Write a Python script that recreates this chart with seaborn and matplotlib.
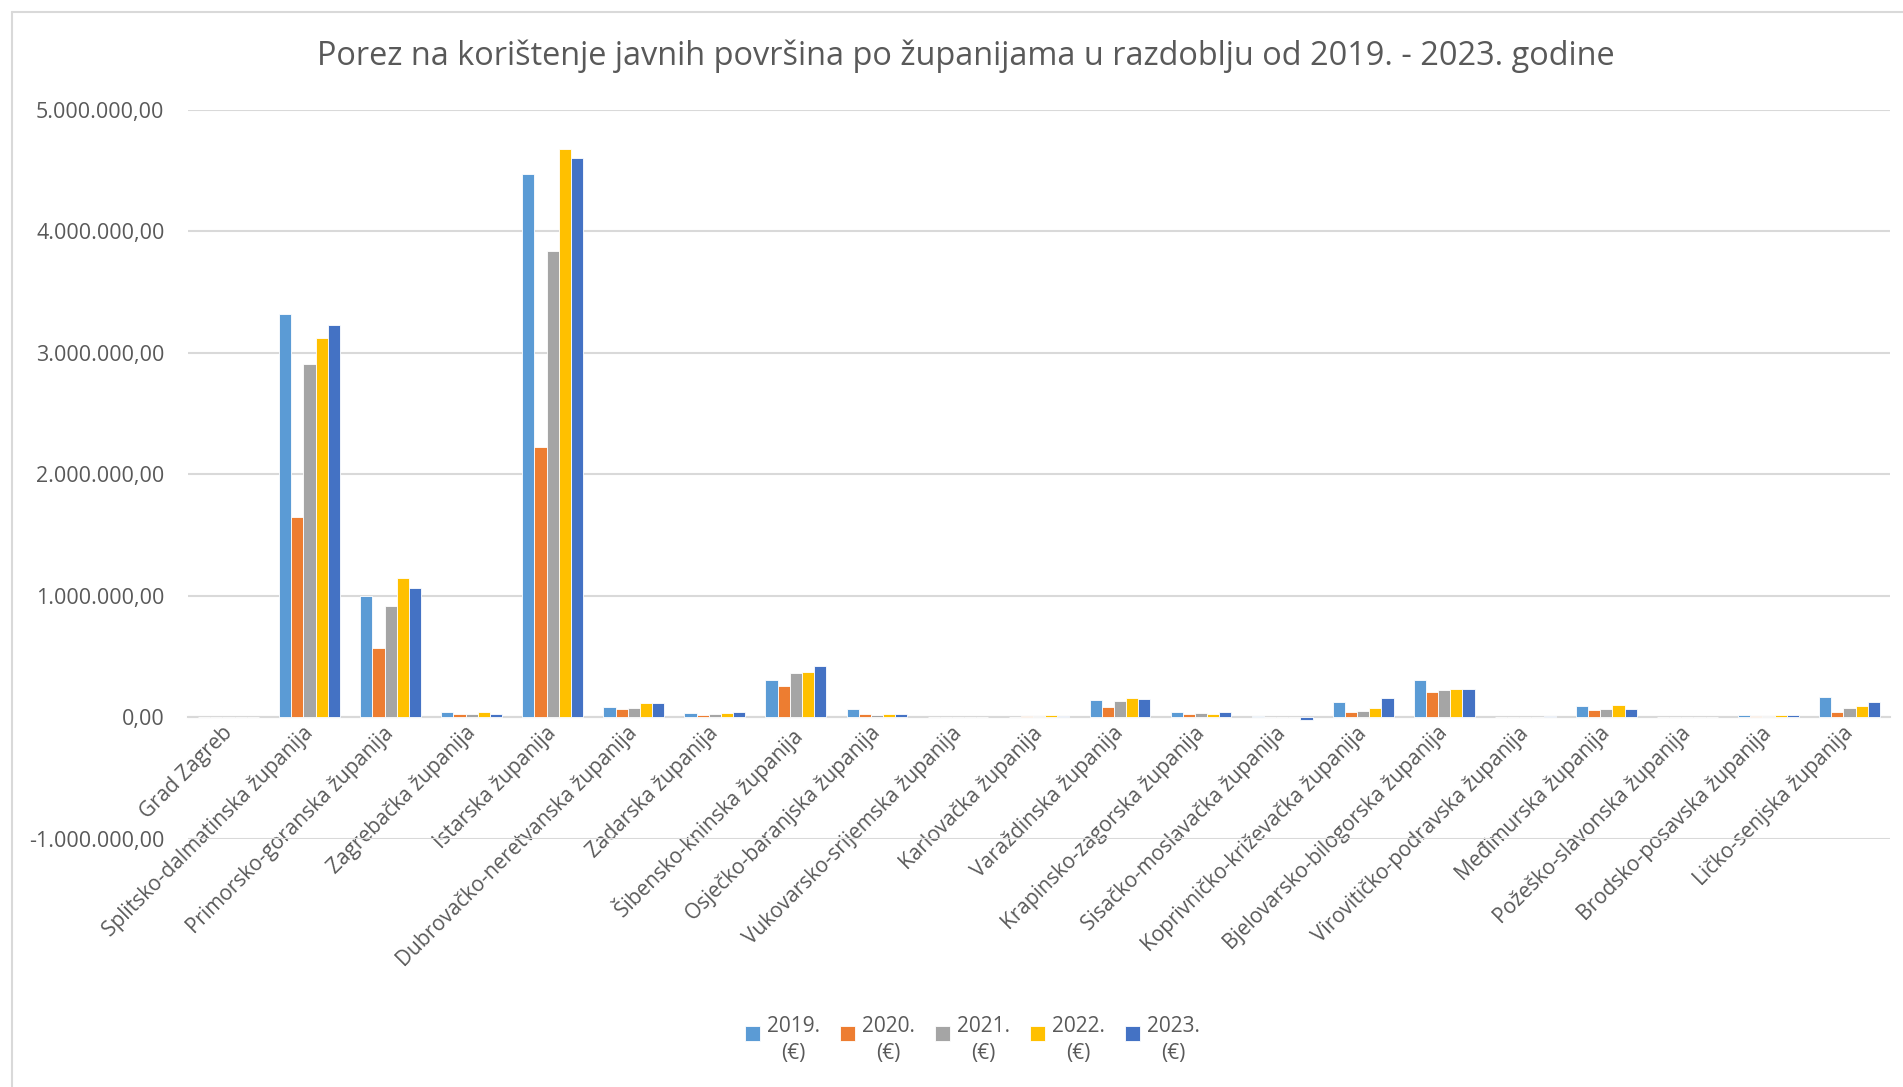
import matplotlib
matplotlib.use("Agg")
import matplotlib.pyplot as plt
import matplotlib.ticker as mticker
import matplotlib.transforms as mtransforms
from matplotlib.lines import Line2D
from matplotlib.patches import Rectangle
from matplotlib.legend_handler import HandlerPatch
import seaborn as sns
import pandas as pd

categories = [
    "Grad Zagreb", "Splitsko-dalmatinska županija", "Primorsko-goranska županija",
    "Zagrebačka županija", "Istarska županija", "Dubrovačko-neretvanska županija",
    "Zadarska županija", "Šibensko-kninska županija", "Osječko-baranjska županija",
    "Vukovarsko-srijemska županija", "Karlovačka županija", "Varaždinska županija",
    "Krapinsko-zagorska županija", "Sisačko-moslavačka županija",
    "Koprivničko-križevačka županija", "Bjelovarsko-bilogorska županija",
    "Virovitičko-podravska županija", "Međimurska županija",
    "Požeško-slavonska županija", "Brodsko-posavska županija", "Ličko-senjska županija",
]
series_labels = ["2019.\n(€)", "2020.\n(€)", "2021.\n(€)", "2022.\n(€)", "2023.\n(€)"]
v2019 = [0, 3324000, 1000000, 44000, 4470000, 85000, 36000, 310000, 66000, 2000, 4000,
         138000, 46000, 6000, 128000, 302000, 2000, 90000, 2000, 15000, 165000]
v2020 = [0, 1646000, 566000, 27000, 2225000, 66000, 19000, 253000, 25000, 1000, 6000,
         80000, 28000, 1000, 46000, 205000, 1000, 60000, 1000, 6000, 46000]
v2021 = [0, 2912000, 918000, 25000, 3838000, 77000, 27000, 362000, 17000, 1000, 6000,
         132000, 33000, 1000, 49000, 220000, 1000, 68000, 1000, 6000, 74000]
v2022 = [0, 3126000, 1143000, 41000, 4679000, 115000, 33000, 370000, 30000, 4000, 16000,
         155000, 25000, 2000, 72000, 232000, 2000, 98000, 1000, 16000, 94000]
v2023 = [0, 3228000, 1063000, 25000, 4602000, 115000, 41000, 422000, 25000, 2000, 10000,
         150000, 41000, -22000, 155000, 228000, 6000, 68000, 1000, 21000, 124000]
colors = ["#5B9BD5", "#ED7D31", "#A5A5A5", "#FFC000", "#4472C4"]
title = "Porez na korištenje javnih površina po županijama u razdoblju od 2019. - 2023. godine"

rows = []
for lab, vals in zip(series_labels, [v2019, v2020, v2021, v2022, v2023]):
    for c, v in zip(categories, vals):
        rows.append({"kategorija": c, "godina": lab, "iznos": v})
df = pd.DataFrame(rows)

sns.set_theme(style="white")
plt.rcParams["font.family"] = ["Open Sans", "DejaVu Sans"]
text_color = "#595959"
grid_color = "#D9D9D9"

W, H = 1903, 1087
fig = plt.figure(figsize=(W / 100, H / 100), dpi=100)
ax = fig.add_axes([188 / W, 1 - 838.6 / H, (1890 - 188) / W, (838.6 - 110) / H])

sns.barplot(data=df, x="kategorija", y="iznos", hue="godina", order=categories,
            hue_order=series_labels, palette=colors, saturation=1, width=0.75,
            edgecolor="white", linewidth=0.6, errorbar=None, ax=ax, zorder=3)

ax.set_ylim(-1_000_000, 5_000_000)
ax.set_xlim(-0.5, len(categories) - 0.5)
ax.yaxis.set_major_locator(mticker.MultipleLocator(1_000_000))
ax.yaxis.set_major_formatter(mticker.FuncFormatter(
    lambda v, p: f"{v:,.2f}".replace(",", "X").replace(".", ",").replace("X", ".")))
ax.grid(axis="y", color=grid_color, linewidth=1.5, zorder=0)
ax.set_axisbelow(True)
for s in ["top", "right", "left"]:
    ax.spines[s].set_visible(False)
ax.spines["bottom"].set_position(("data", 0))
ax.spines["bottom"].set_color(grid_color)
ax.spines["bottom"].set_linewidth(1.5)
ax.spines["bottom"].set_zorder(1)
ax.set_xlabel("")
ax.set_ylabel("")
ax.tick_params(axis="y", length=0, pad=17, labelsize=15.5, labelcolor=text_color)
ax.tick_params(axis="x", length=0, pad=4, labelsize=15, labelcolor=text_color)
shift = mtransforms.ScaledTranslation(-7 / 100, 0, fig.dpi_scale_trans)
for lbl in ax.get_xticklabels():
    lbl.set_rotation(45)
    lbl.set_ha("right")
    lbl.set_rotation_mode("anchor")
    lbl.set_transform(lbl.get_transform() + shift)

ax.get_legend().remove()
handles, labels = ax.get_legend_handles_labels()


def top_square(legend, orig_handle, xdescent, ydescent, width, height, fontsize):
    s = 0.72 * fontsize
    return Rectangle((-xdescent, -ydescent + height - s), s, s)


leg = fig.legend(handles, labels, loc="center", bbox_to_anchor=(0.511, 0.043), ncol=5,
                 frameon=False, fontsize=15, handlelength=0.72, handleheight=1.9,
                 handletextpad=0.35, columnspacing=0.95, labelcolor=text_color,
                 handler_map={h: HandlerPatch(patch_func=top_square) for h in handles})
for t in leg.get_texts():
    t.set_multialignment("center")
    t.set_linespacing(1.35)

fig.text(966 / W, 1 - 56 / H, title, ha="center", va="center", fontsize=23.4, color=text_color)

fig.add_artist(Line2D([12 / W, 12 / W], [0, 1 - 12 / H], transform=fig.transFigure,
                      color=grid_color, linewidth=1.5))
fig.add_artist(Line2D([12 / W, 1], [1 - 12 / H, 1 - 12 / H], transform=fig.transFigure,
                      color=grid_color, linewidth=1.5))

fig.savefig("out.png", dpi=100, facecolor="white")
